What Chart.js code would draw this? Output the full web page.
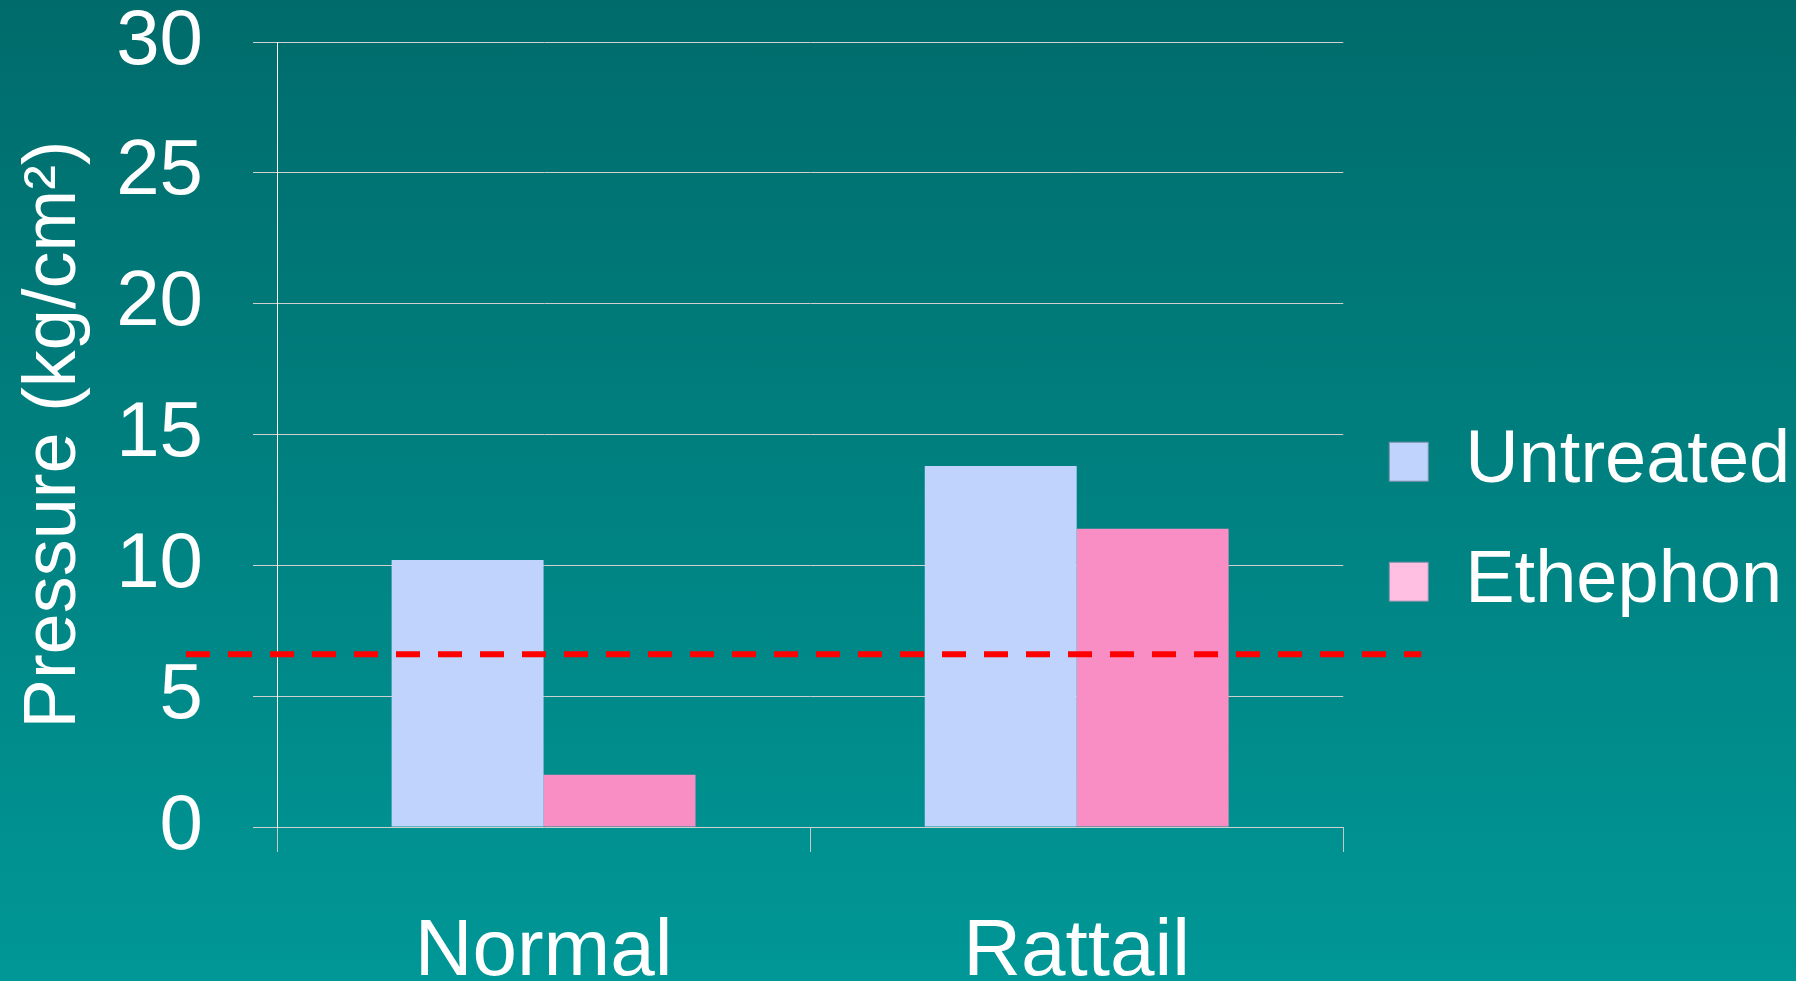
<!DOCTYPE html>
<html>
<head>
<meta charset="utf-8">
<script src="https://cdn.jsdelivr.net/npm/chart.js@4.4.1/dist/chart.umd.min.js"></script>
<style>
    html, body { margin: 0; padding: 0; }
    body { width: 1796px; height: 981px; overflow: hidden; background: linear-gradient(#006b6b, #009796); }
    #caixa { position: relative; width: 1796px; height: 981px; }
</style>
</head>
<body>
<div id="caixa"><canvas id="barras"></canvas></div>
<script>
const categorias = ['Normal', 'Rattail'];
const untreated = [10.2, 13.8];
const ethephon = [2.0, 11.4];
const limiar = 6.6;          /* linha vermelha tracejada */
const yMin = 0, yMax = 30, yPasso = 5;

const corUntreated = '#c0d3fc';
const corEthephon = '#f98ec4';
const corLegenda = ['#c0d3fc', '#ffbfe2'];
const fonte = '"Liberation Sans", Arial, sans-serif';

const linhaLimiar = {
    id: 'linhaLimiar',
    afterDatasetsDraw(chart) {
        const {ctx, chartArea, scales: {y}} = chart;
        const py = y.getPixelForValue(limiar);
        ctx.save();
        ctx.strokeStyle = '#ff0000';
        ctx.lineWidth = 6;
        ctx.setLineDash([24, 18]);
        ctx.beginPath();
        ctx.moveTo(chartArea.left - 91, py);
        ctx.lineTo(chartArea.right + 78, py);
        ctx.stroke();
        ctx.restore();
    }
};

const ctx = document.getElementById('barras');

new Chart(ctx, {
    type: 'bar',
    data: {
        labels: categorias,
        datasets: [{
            label: 'Untreated',
            data: untreated,
            backgroundColor: corUntreated,
            borderWidth: 0
        }, {
            label: 'Ethephon',
            data: ethephon,
            backgroundColor: corEthephon,
            borderWidth: 0
        }]
    },
    options: {
        responsive: true,
        maintainAspectRatio: false,
        animation: false,
        categoryPercentage: 0.57,
        barPercentage: 1.0,
        layout: {
            padding: { top: 42, right: 5, bottom: 0, left: 0 }
        },
        scales: {
            x: {
                offset: true,
                grid: {
                    offset: true,
                    drawOnChartArea: false,
                    tickLength: 25,
                    color: '#c8c8c8'
                },
                border: { display: false },
                ticks: {
                    color: '#ffffff',
                    padding: 53,
                    font: { family: fonte, size: 80 }
                },
                afterFit(scale) { scale.height = 154; }
            },
            y: {
                min: yMin,
                max: yMax,
                ticks: {
                    stepSize: yPasso,
                    color: '#ffffff',
                    padding: 50,
                    font: { family: fonte, size: 78 }
                },
                grid: {
                    color: '#d0d0d0',
                    tickLength: 24
                },
                border: { display: true, color: '#ffffff' },
                title: {
                    display: true,
                    text: 'Pressure (kg/cm²)',
                    color: '#ffffff',
                    padding: { top: 10, bottom: 0 },
                    font: { family: fonte, size: 74 }
                },
                afterFit(scale) {
                    scale.width = 277;
                    scale.paddingTop = 0;
                    scale.paddingBottom = 0;
                }
            }
        },
        plugins: {
            legend: {
                position: 'right',
                align: 'center',
                title: { display: true, text: '', padding: { top: 0, bottom: 6 }, font: { size: 12 } },
                labels: {
                    color: '#ffffff',
                    boxWidth: 39,
                    boxHeight: 39,
                    padding: 46,
                    font: { family: fonte, size: 74 },
                    generateLabels(chart) {
                        const itens = Chart.defaults.plugins.legend.labels.generateLabels(chart);
                        itens.forEach((it, i) => {
                            it.fillStyle = corLegenda[i];
                            it.strokeStyle = '#7f8fa8';
                            it.lineWidth = 1;
                        });
                        return itens;
                    }
                }
            },
            tooltip: { enabled: false }
        }
    },
    plugins: [linhaLimiar]
});
</script>
</body>
</html>
